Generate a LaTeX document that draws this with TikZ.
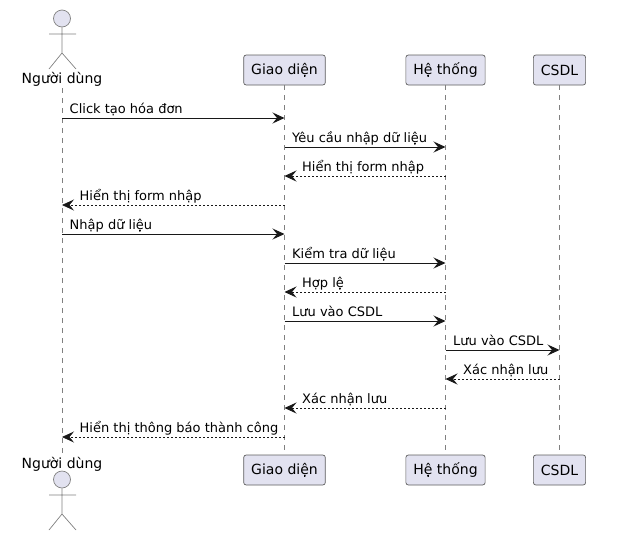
\documentclass[tikz,border=0pt]{standalone}
\usepackage{fontspec}
\setmainfont{DejaVu Sans}
\usetikzlibrary{positioning,arrows.meta}
\definecolor{boxfill}{HTML}{E2E2F0}
\definecolor{edge}{HTML}{181818}
\tikzset{
    participant/.style={draw=edge!70, fill=boxfill, rounded corners=2.5pt, line width=0.7pt, minimum height=30pt, inner xsep=7.5pt, font=\fontsize{14}{16}\selectfont},
    actorname/.style={inner sep=0pt, minimum height=18pt, font=\fontsize{14}{16}\selectfont},
    actorhead/.style={circle, draw=edge!55, fill=boxfill, line width=0.7pt, minimum size=17pt, inner sep=0pt},
    actorline/.style={draw=edge!55, line width=0.7pt},
    lifeline/.style={draw=edge!55, line width=0.6pt, dash pattern=on 5pt off 5pt},
    tip/.style={-{Stealth[length=12pt,width=11pt,inset=4.5pt]}},
    call/.style={tip, draw=edge, line width=1pt},
    reply/.style={tip, draw=edge, line width=0.8pt, dash pattern=on 2pt off 2pt},
    msgtext/.style={anchor=base west, inner sep=0pt, font=\fontsize{13}{15}\selectfont}
}
\begin{document}
\begin{tikzpicture}[x=1pt, y=-1pt]
    \useasboundingbox (0,0) rectangle (634,544);
    % participants, top and bottom
    \node[actorname] (userTop) at (62,79.2) {Người dùng};
    \node[actorname] (userBottom) at (62,464.2) {Người dùng};
    \node[participant] (guiTop) at (284.5,70) {Giao diện};
    \node[participant] (sysTop) at (445.5,70) {Hệ thống};
    \node[participant] (dbTop) at (559.5,70) {CSDL};
    \node[participant] (guiBottom) at (284.5,470) {Giao diện};
    \node[participant] (sysBottom) at (445.5,470) {Hệ thống};
    \node[participant] (dbBottom) at (559.5,470) {CSDL};
    % the two stick figures
    \node[actorhead] (headTop) at (62,18.5) {};
    \coordinate (hipTop) at (62,53);
    \coordinate (armLTop) at (49,34);
    \coordinate (armRTop) at (76,34);
    \coordinate (legLTop) at (49,69);
    \coordinate (legRTop) at (76,69);
    \draw[actorline] (headTop) -- (hipTop) -- (legLTop) (hipTop) -- (legRTop) (armLTop) -- (armRTop);
    \node[actorhead] (headBottom) at (62,479.5) {};
    \coordinate (hipBottom) at (62,514);
    \coordinate (armLBottom) at (49,495);
    \coordinate (armRBottom) at (76,495);
    \coordinate (legLBottom) at (49,530);
    \coordinate (legRBottom) at (76,530);
    \draw[actorline] (headBottom) -- (hipBottom) -- (legLBottom) (hipBottom) -- (legRBottom) (armLBottom) -- (armRBottom);
    % lifelines
    \draw[lifeline] (userTop) -- (userBottom);
    \foreach \who in {gui,sys,db}
        \draw[lifeline] (\who Top) -- (\who Bottom);
    % left to right messages
    \foreach \y/\src/\dst/\txt in {118/user/gui/Click tạo hóa đơn, 147/gui/sys/Yêu cầu nhập dữ liệu, 234/user/gui/Nhập dữ liệu, 263/gui/sys/Kiểm tra dữ liệu, 321/gui/sys/Lưu vào CSDL, 350/sys/db/Lưu vào CSDL} {
        \coordinate (row) at (0,\y);
        \coordinate (a) at (\src Top|-row);
        \coordinate (b) at (\dst Top|-row);
        \draw[call] (a) -- (b);
        \node[msgtext, above right=4.6pt and 7.5pt of a, anchor=base west] {\txt};
    }
    % right to left messages
    \foreach \y/\src/\dst/\txt in {176/sys/gui/Hiển thị form nhập, 205/gui/user/Hiển thị form nhập, 292/sys/gui/Hợp lệ, 379/db/sys/Xác nhận lưu, 408/sys/gui/Xác nhận lưu, 437/gui/user/Hiển thị thông báo thành công} {
        \coordinate (row) at (0,\y);
        \coordinate (a) at (\src Top|-row);
        \coordinate (b) at (\dst Top|-row);
        \draw[reply] (a) -- (b);
        \node[msgtext, above right=4.6pt and 17.5pt of b, anchor=base west] {\txt};
    }
\end{tikzpicture}
\end{document}
